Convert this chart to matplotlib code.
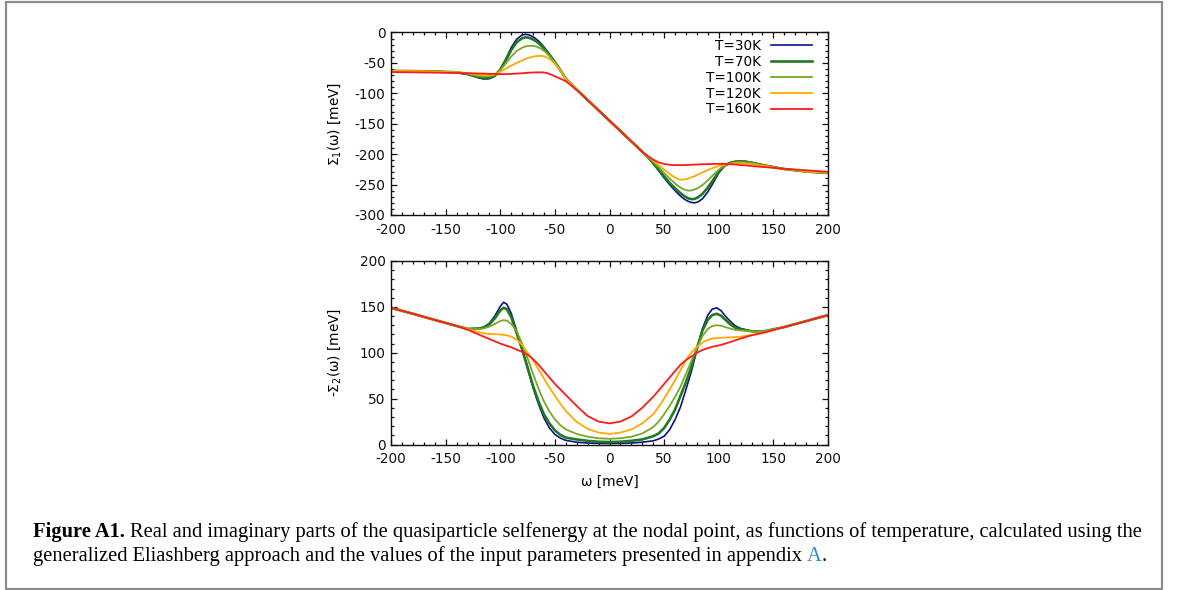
import numpy as np
import matplotlib.pyplot as plt
from matplotlib.patches import Rectangle
from matplotlib.ticker import MultipleLocator

plt.rcParams['axes.unicode_minus'] = False

# ---- data ----
labels = ['T=30K', 'T=70K', 'T=100K', 'T=120K', 'T=160K']
colors = ['#10108a', '#1f7a1f', '#7aa62a', '#ffaa00', '#ff1a1a']
widths = [1.2, 1.9, 1.3, 1.3, 1.3]

# real part, top panel
w1 = [-200, -180, -160, -140, -130, -125, -120, -115, -110, -105, -100, -95, -90, -85, -80,
      -77, -74, -71, -68, -65, -62, -59, -55, -50, -45, -40, -30, -20, -10, 0, 10, 20, 30,
      35, 40, 45, 50, 55, 60, 63, 66, 69, 72, 75, 78, 81, 85, 90, 95, 100, 105, 110, 115,
      120, 125, 130, 140, 160, 180, 200]
re_30 = [-63, -63.5, -64, -66, -69, -71.5, -74.5, -76.5, -76, -72, -61, -44, -25, -11, -4,
         -3, -3.8, -6, -9.5, -14, -19.5, -26, -35.5, -48, -61.5, -76, -94, -111, -128, -145, -162, -179, -196,
         -205, -215.5, -227, -239, -250, -260, -265.5, -270.5, -274.5, -277.5, -279.5, -280, -278.5, -273.5, -262, -247, -231, -220, -214.5, -212,
         -211.5, -212, -213.5, -217.5, -224.5, -228.5, -231]
re_70 = [-63, -63.5, -64, -65.5, -68, -70.5, -73, -75, -74.5, -71, -61, -46, -29, -16, -9.5,
         -8, -8.5, -10.5, -13.5, -17.5, -22.5, -28, -37, -49, -62, -76, -94, -111, -128, -145, -162, -179, -196,
         -204.5, -214.5, -225.5, -236.5, -247, -256, -261, -265.5, -269.5, -272.5, -274, -273.5, -271, -265.5, -255, -242, -228.5, -219, -214.5, -212.5,
         -212, -212.5, -214, -218, -224.5, -228.5, -231]
re_100 = [-63, -63.5, -64, -65.5, -67.5, -69.5, -71.5, -72.5, -72, -70, -62, -51, -39.5, -30.5, -25,
          -23, -22, -21.8, -22.5, -24.5, -27.5, -31.5, -38.5, -49.5, -62, -76, -94, -111, -128, -145, -162, -179, -196,
          -204, -212.5, -221.5, -231, -240, -248, -252.5, -256, -258.5, -260, -259.5, -258, -255.5, -251, -243, -234, -225.5, -219, -215.5, -213.5,
          -213, -213.5, -214.5, -218, -224.5, -228.5, -231]
re_120 = [-63, -63.5, -64, -65.5, -67, -68.5, -69.5, -70, -70, -68.5, -64.5, -59.5, -54.5, -50, -46,
          -43.5, -41.5, -40, -39, -38.5, -38.5, -39.5, -43.5, -51.5, -62.5, -76.5, -94, -111, -128, -145, -162, -179, -196,
          -203.5, -210.5, -218, -225.5, -232.5, -238.5, -241, -242, -241.5, -240, -238, -236, -233.5, -230, -226, -222.5, -219.5, -217.5, -216, -215,
          -215, -215.5, -216.5, -219, -224.5, -228.5, -230.5]
re_160 = [-65, -65.5, -66, -66.5, -67, -67, -67.5, -67.5, -68, -68, -68.5, -68.5, -68, -67.5, -67,
          -66.5, -66, -66, -65.5, -65.5, -65.5, -66, -68, -72, -76, -80, -94.5, -111, -128, -145, -162, -179, -196,
          -203, -209, -213.5, -216, -217.5, -218, -218, -218, -218, -217.5, -217.5, -217, -217, -216.5, -216.5, -216, -216, -216, -216.5, -217,
          -218, -218.5, -219.5, -221, -224, -226.5, -229]

# minus imaginary part, bottom panel
w2 = [-200, -180, -160, -140, -130, -120, -115, -110, -105, -100, -97, -94, -90, -85, -80, -75,
      -70, -65, -60, -55, -50, -45, -40, -30, -20, -10, 0, 10, 20, 30, 40, 45, 50, 55, 60, 65,
      70, 75, 80, 85, 90, 94, 98, 102, 106, 110, 115, 120, 130, 140, 160, 180, 200]
im_30 = [149, 142.5, 135.8, 129.2, 126, 126.5, 128, 132, 140, 150.5, 155, 153, 143, 124, 104, 83,
         62, 44, 29, 18, 11, 7, 4.5, 2.5, 1.6, 1.2, 1, 1.2, 1.6, 2.5, 4, 6, 9, 16, 27, 41,
         60, 80, 103, 126, 141, 147.5, 149, 146, 140, 135, 129.5, 126.5, 123.5, 123, 128, 134.5, 141]
im_70 = [149, 142.5, 135.8, 129.2, 126, 126.3, 127.5, 131, 137.5, 146, 149, 147.5, 139, 121.5, 104, 84,
         64, 47, 33, 23, 15.5, 10.5, 7.5, 5.5, 4, 3, 2.7, 3, 4, 5.5, 9, 12, 18, 27, 38, 53,
         68, 85, 105, 124, 136, 141, 142.5, 140.5, 136, 131.5, 127.5, 125.5, 123.5, 123, 128, 134.5, 141]
im_100 = [149, 142.5, 135.8, 129.2, 126, 125.8, 126.5, 128.5, 131.5, 134.5, 135.5, 135, 131.5, 123.5, 110, 94,
          77, 61, 47, 36, 27.5, 21, 16.5, 11.5, 8.5, 6.8, 6.2, 6.8, 8.5, 12, 19, 25, 33, 42, 52, 63,
          77, 91, 105, 118, 126, 129, 130, 129.5, 128, 126.5, 125, 124.3, 123.5, 123, 128, 134.5, 141]
im_120 = [149, 142.5, 135.8, 129.2, 125.5, 122.5, 121.3, 120.5, 120.2, 120, 119.5, 119, 117.5, 114.5, 108.5, 100,
          92, 82, 72, 62, 53, 44.5, 36.5, 24.5, 17, 13, 11.5, 13, 16.5, 23, 33, 41, 50, 60, 70, 81,
          92, 100.5, 106.5, 111, 114, 115.5, 116, 116.3, 116.5, 116.8, 117, 117.5, 119.5, 122, 128, 134.5, 141]
im_160 = [149, 142.5, 135.8, 129.2, 125.2, 120, 117.5, 115, 112.5, 110, 108.8, 107.5, 106, 103.5, 101, 98,
          93, 87, 80, 73, 66, 60, 54, 42, 31, 25, 23, 25, 30.5, 40, 52, 59, 66, 73, 80, 87,
          92, 96, 100, 103, 105, 106.5, 107.5, 108.5, 110, 111.5, 113.5, 115.5, 119, 121.5, 128, 134.5, 141]

re_curves = [re_30, re_70, re_100, re_120, re_160]
im_curves = [im_30, im_70, im_100, im_120, im_160]

caption_bold = 'Figure A1.'
caption_1 = ('Real and imaginary parts of the quasiparticle selfenergy at the nodal point, '
             'as functions of temperature, calculated using the')
caption_2 = 'generalized Eliashberg approach and the values of the input parameters presented in appendix'

# ---- figure ----
W, H = 1179, 590
fig = plt.figure(figsize=(W / 100, H / 100), dpi=100)
fsz = 9.8


def rect(l, t, r, b):
    return [l / W, 1 - b / H, (r - l) / W, (b - t) / H]


ax1 = fig.add_axes(rect(391, 32.5, 828, 215))
ax2 = fig.add_axes(rect(391, 261, 828, 444.5))

for lab, c, lw, y in zip(labels, colors, widths, re_curves):
    ax1.plot(w1, y, color=c, lw=lw, label=lab)
for lab, c, lw, y in zip(labels, colors, widths, im_curves):
    ax2.plot(w2, y, color=c, lw=lw)

ax1.set_xlim(-200, 200)
ax1.set_ylim(-300, 0)
ax2.set_xlim(-200, 200)
ax2.set_ylim(0, 200)

for ax in (ax1, ax2):
    ax.xaxis.set_major_locator(MultipleLocator(50))
    ax.xaxis.set_minor_locator(MultipleLocator(10))
    ax.yaxis.set_major_locator(MultipleLocator(50))
    ax.yaxis.set_minor_locator(MultipleLocator(10))
    ax.tick_params(which='both', direction='in', top=True, right=True, labelsize=fsz,
                   colors='#111111', width=0.9)
    ax.tick_params(which='major', length=4.5)
    ax.tick_params(which='minor', length=2.3)
    ax.tick_params(axis='x', pad=5.5)
    ax.tick_params(axis='y', pad=4)
    for s in ax.spines.values():
        s.set_linewidth(1.0)
        s.set_color('#111111')

ax1.set_ylabel('Σ$_1$(ω) [meV]', fontsize=fsz)
ax2.set_ylabel('-Σ$_2$(ω) [meV]', fontsize=fsz)
ax2.set_xlabel('ω [meV]', fontsize=fsz)
ax1.yaxis.set_label_coords(-0.11, 0.5)
ax2.yaxis.set_label_coords(-0.11, 0.5)
ax2.xaxis.set_label_coords(0.5, -0.168)

ax1.legend(loc='upper right', bbox_to_anchor=(0.963, 0.963), frameon=False, fontsize=fsz,
           markerfirst=False, handlelength=3.0, handletextpad=0.75, labelspacing=0.13,
           borderpad=0, borderaxespad=0)

# outer frame
fig.patches.append(Rectangle((5.7 / W, 1 - 588.5 / H), 1156 / W, 587 / H, transform=fig.transFigure,
                             fill=False, edgecolor='#8c8c8c', lw=1.6))

# caption
renderer = fig.canvas.get_renderer()
serif = ['Liberation Serif', 'DejaVu Serif']


def width_of(s, size, weight='normal'):
    t = fig.text(0, 0, s, fontsize=size, family=serif, fontweight=weight)
    w = t.get_window_extent(renderer).width
    t.remove()
    return w


test = 10
full = width_of(caption_bold, test, 'bold') + width_of('a a', test) - width_of('aa', test) + width_of(caption_1, test)
fs = test * (1148 - 33) / full
space = width_of('a a', fs) - width_of('aa', fs)


def put(x, y, s, **kw):
    t = fig.text(x / W, 1 - y / H, s, fontsize=fs, family=serif, va='baseline', **kw)
    return x + t.get_window_extent(renderer).width


x = put(33, 537, caption_bold, fontweight='bold')
put(x + space, 537, caption_1)
x = put(33, 561, caption_2)
x = put(x + space, 561, 'A', color='#2a8fc8')
put(x, 561, '.')

fig.savefig('out.png', dpi=100)
